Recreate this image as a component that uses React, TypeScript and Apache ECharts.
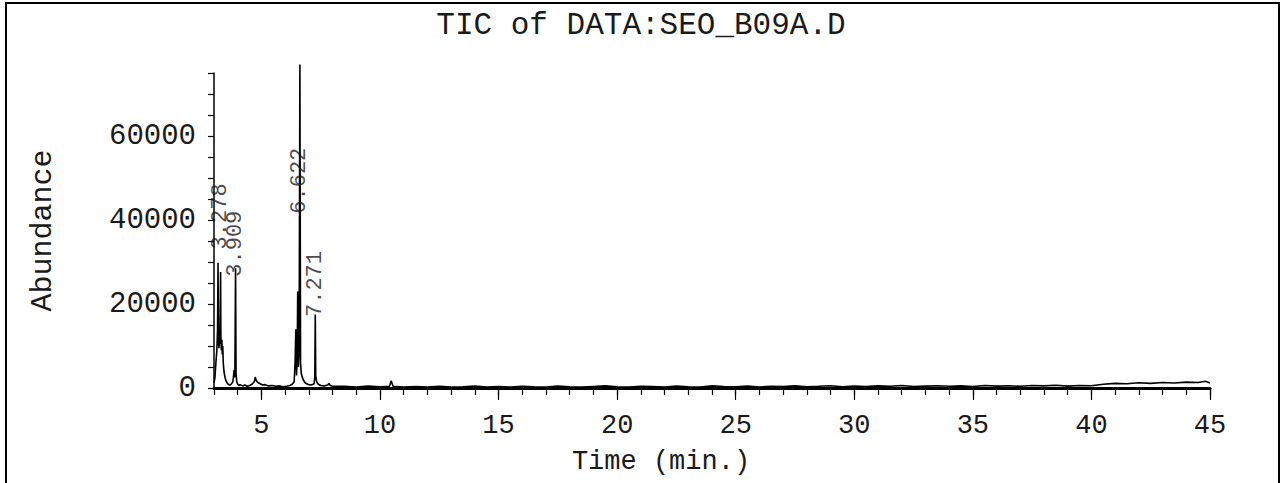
import React, { useEffect, useRef } from "react";
import * as echarts from "echarts";

const titleText = "TIC of DATA:SEO_B09A.D";
const xAxisName = "Time (min.)";
const yAxisName = "Abundance";

const xMajorTicks = [5, 10, 15, 20, 25, 30, 35, 40, 45];

const retentionTime = [
  3.0, 3.04, 3.08, 3.12, 3.15, 3.17, 3.19, 3.21, 3.23, 3.25, 3.278, 3.29, 3.31, 3.33, 3.35, 3.37, 3.39, 3.42, 3.46,
  3.5, 3.55, 3.6, 3.65, 3.7, 3.75, 3.8, 3.85, 3.88, 3.909, 3.93, 3.96, 4.0, 4.05, 4.1, 4.2, 4.3, 4.4, 4.5, 4.6,
  4.7, 4.74, 4.78, 4.85, 4.95, 5.05, 5.15, 5.3, 5.45, 5.6, 5.75, 5.9, 6.05, 6.2, 6.3, 6.38, 6.42, 6.45, 6.48,
  6.51, 6.53, 6.56, 6.59, 6.622, 6.65, 6.68, 6.72, 6.78, 6.85, 6.95, 7.05, 7.15, 7.22, 7.25, 7.271, 7.29, 7.33,
  7.4, 7.5, 7.65, 7.8, 7.85, 7.9, 8.0, 8.5, 9.0, 9.5, 10.0, 10.4, 10.47, 10.55, 11.0, 11.5, 12.0, 12.5, 13.0,
  13.5, 14.0, 14.5, 15.0, 15.5, 16.0, 16.5, 17.0, 17.5, 18.0, 18.5, 19.0, 19.5, 20.0, 20.5, 21.0, 21.5, 22.0,
  22.5, 23.0, 23.5, 24.0, 24.5, 25.0, 25.5, 26.0, 26.5, 27.0, 27.5, 28.0, 28.5, 29.0, 29.5, 30.0, 30.5, 31.0,
  31.5, 32.0, 32.5, 33.0, 33.5, 34.0, 34.5, 35.0, 35.5, 36.0, 36.5, 37.0, 37.5, 38.0, 38.5, 39.0, 39.5, 40.0,
  40.5, 41.0, 41.5, 42.0, 42.5, 43.0, 43.5, 44.0, 44.5, 44.8, 45.0,
];

const abundance = [
  1200, 2500, 6000, 9000, 14000, 29800, 11000, 9500, 12000, 10500, 27600, 12500, 9000, 11500, 8000, 10000, 6000, 4000, 2600,
  1800, 1200, 900, 700, 800, 1100, 1600, 4300, 2500, 28500, 3500, 1500, 900, 600, 800, 500, 700, 400, 600, 900,
  1500, 2600, 1800, 1300, 1000, 700, 800, 500, 600, 400, 500, 300, 400, 600, 900, 1500, 6000, 14000, 3000,
  8000, 23000, 5000, 9000, 77000, 6000, 3500, 2600, 1800, 1200, 900, 700, 800, 1000, 2500, 17500, 2800, 1500,
  900, 600, 500, 700, 1100, 600, 400, 400, 250, 450, 300, 400, 1700, 400, 250, 350, 250, 400, 200,
  300, 450, 250, 350, 200, 400, 300, 250, 450, 300, 200, 350, 500, 300, 250, 400, 350, 200,
  450, 300, 250, 500, 350, 300, 450, 250, 400, 350, 500, 300, 400, 550, 300, 450, 350, 500,
  400, 600, 350, 450, 550, 400, 500, 350, 600, 450, 550, 400, 600, 500, 650, 450, 600, 550,
  900, 1100, 1000, 1250, 1100, 1300, 1200, 1400, 1300, 1600, 1200,
];

const peakLabels = ["3.278", "3.909", "6.622", "7.271"];
const peakTimes = [3.278, 3.909, 6.622, 7.271];
const peakLabelBase = [33000, 26500, 41500, 16900];

const FONT = "'Liberation Mono', 'DejaVu Sans Mono', monospace";
const INK = "#1a1a1a";

export default function App() {
  const ref = useRef<HTMLDivElement>(null);

  useEffect(() => {
    if (!ref.current) return;
    const chart = echarts.init(ref.current, undefined, { renderer: "svg" });
    const traceData = retentionTime.map((t, i) => [t, abundance[i]]);
    const labelData = peakTimes.map((t, i) => ({ value: [t, peakLabelBase[i]], name: peakLabels[i] }));

    chart.setOption({
      animation: false,
      backgroundColor: "#ffffff",
      title: {
        text: titleText,
        left: "center",
        top: 5,
        textStyle: { fontFamily: FONT, fontSize: 31, fontWeight: "normal", color: INK },
      },
      graphic: [
        {
          type: "rect",
          shape: { x: 6, y: 3, width: 1273, height: 500 },
          style: { fill: "none", stroke: "#000", lineWidth: 2 },
          silent: true,
        },
        {
          type: "text",
          x: 661,
          y: 462,
          style: {
            text: xAxisName,
            fontFamily: FONT,
            fontSize: 27,
            fill: INK,
            align: "center",
            verticalAlign: "middle",
          },
          silent: true,
        },
      ],
      grid: { left: 214, right: 72, top: 73, bottom: 95, containLabel: false },
      xAxis: [
        {
          type: "value",
          min: 3,
          max: 45,
          interval: 1,
          axisLine: { show: true, lineStyle: { color: "#000", width: 3 } },
          axisTick: { show: true, inside: false, length: 7, lineStyle: { color: "#000", width: 1.2 } },
          axisLabel: {
            customValues: xMajorTicks,
            margin: 24,
            fontFamily: FONT,
            fontSize: 27,
            color: INK,
          },
          splitLine: { show: false },
        },
        {
          type: "value",
          min: 3,
          max: 45,
          interval: 1,
          position: "bottom",
          axisLine: { show: false },
          axisTick: { show: true, customValues: xMajorTicks, inside: false, length: 12, lineStyle: { color: "#000", width: 1.2 } },
          axisLabel: { show: false },
          splitLine: { show: false },
        },
      ],
      yAxis: {
        type: "value",
        min: 0,
        max: 75000,
        interval: 5000,
        name: yAxisName,
        nameLocation: "middle",
        nameGap: 156,
        nameRotate: 90,
        nameTextStyle: { fontFamily: FONT, fontSize: 30, color: INK },
        axisLine: { show: true, lineStyle: { color: "#000", width: 1.5 } },
        axisTick: { show: true, inside: false, length: 6, lineStyle: { color: "#000", width: 1.2 } },
        axisLabel: {
          margin: 18,
          fontFamily: FONT,
          fontSize: 29,
          color: INK,
          formatter: (v: number) => (v % 20000 === 0 ? String(v) : ""),
        },
        splitLine: { show: false },
      },
      series: [
        {
          type: "line",
          data: traceData,
          showSymbol: false,
          clip: false,
          lineStyle: { color: "#000", width: 1.6 },
          z: 3,
        },
        {
          type: "scatter",
          data: labelData,
          symbolSize: 0,
          clip: false,
          silent: true,
          label: {
            show: true,
            position: "inside",
            rotate: 90,
            align: "left",
            verticalAlign: "middle",
            formatter: (p: any) => p.name,
            fontFamily: FONT,
            fontSize: 22,
            color: INK,
          },
          z: 4,
        },
      ],
    });

    return () => chart.dispose();
  }, []);

  return (
    <div
      ref={ref}
      style={{ position: "fixed", left: 0, top: 0, width: 1282, height: 483, background: "#fff" }}
    />
  );
}
